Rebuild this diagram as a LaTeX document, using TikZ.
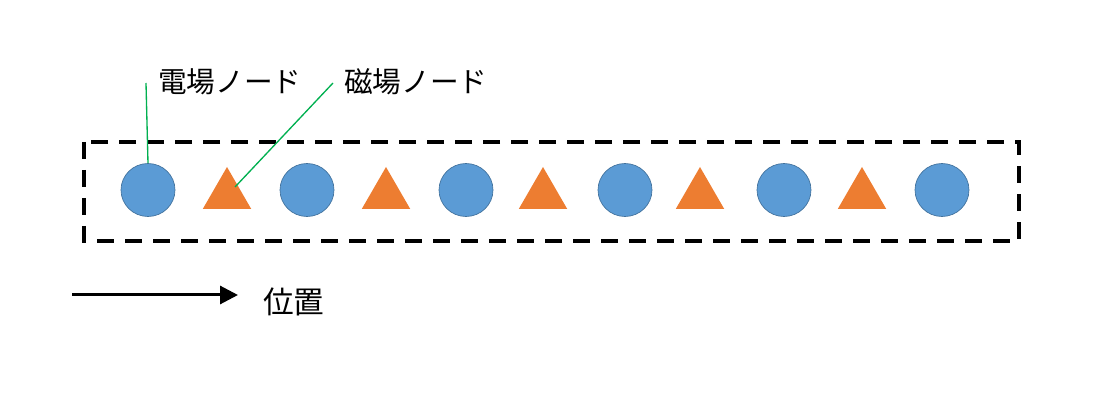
\documentclass[tikz,border=0pt]{standalone}
\usepackage{fontspec}
\newfontfamily\jp{Noto Sans CJK JP}
\usetikzlibrary{shapes.geometric,arrows.meta}
\definecolor{eblue}{RGB}{91,155,213}
\definecolor{eedge}{RGB}{65,113,156}
\definecolor{morange}{RGB}{237,125,49}
\definecolor{lgreen}{RGB}{0,176,80}
\tikzset{
	enode/.style={ellipse,fill=eblue,draw=eedge,line width=0.5pt,minimum width=40.5pt,minimum height=39.75pt,inner sep=0pt},
	mnode/.style={regular polygon,regular polygon sides=3,fill=morange,minimum size=42pt,inner sep=0pt},
	lbl/.style={inner sep=0.75pt,font=\jp\fontsize{21.5pt}{24pt}\selectfont},
	leader/.style={draw=lgreen,line width=1pt}
}
\begin{document}
\begin{tikzpicture}[x=0.75pt,y=0.75pt,yscale=-1,xscale=1]
	\useasboundingbox (0,0) rectangle (1104,417);
	% nodes on the line
	\foreach \i/\x in {1/148,2/307,3/466,4/625,5/784,6/942}
		\node[enode] (e\i) at (\x,190) {};
	\foreach \i/\x in {1/227,2/386,3/543,4/700,5/862}
		\node[mnode] (m\i) at (\x,195) {};
	\draw [dashed,dash pattern=on 12.75pt off 8.25pt,line width=3pt] (84,142) rectangle (1019,241);

	% labels
	\node[lbl,anchor=west] (le) at (157,82) {電場ノード};
	\node[lbl,anchor=west] (lm) at (343,82) {磁場ノード};
	\coordinate (ce) at (146,83);
	\coordinate (cm) at (333,83);
	\draw[leader] (ce) -- (e1.north);
	\draw[leader] (cm) -- ([shift={(8,-8)}]m1.center);

	% axis
	\coordinate (a0) at (72,295);
	\coordinate (a1) at (238,295);
	\draw [line width=2.25pt,-{Triangle[length=13.5pt,width=13.5pt]}] (a0) -- (a1);
	\node[lbl,anchor=west,font=\jp\fontsize{23pt}{26pt}\selectfont] (pos) at (262,302) {位置};
\end{tikzpicture}
\end{document}
